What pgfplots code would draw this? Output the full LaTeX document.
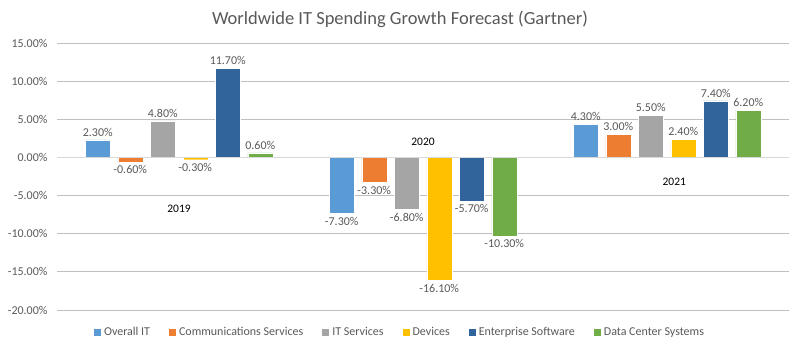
\documentclass[border=0pt]{standalone}
\usepackage{pgfplots}
\pgfplotsset{compat=1.18}
\usepackage{fontspec}
\setmainfont{Carlito}
\definecolor{c1}{HTML}{5B9BD5}
\definecolor{c2}{HTML}{ED7D31}
\definecolor{c3}{HTML}{A5A5A5}
\definecolor{c4}{HTML}{FFC000}
\definecolor{c5}{HTML}{31649A}
\definecolor{c6}{HTML}{70AD47}
\definecolor{txt}{HTML}{595959}
\definecolor{grid}{HTML}{D9D9D9}
\begin{document}
\begin{tikzpicture}
\begin{axis}[
  at={(0,0)}, anchor=south west,
  scale only axis, width=732bp, height=267bp,
  xmin=-0.5, xmax=2.5, ymin=-20, ymax=15,
  axis line style={draw=none},
  xtick=\empty,
  ytick={-20,-15,...,15},
  ymajorgrids, grid style={grid, line width=0.8pt},
  major tick length=0pt,
  /pgf/number format/assume math mode=true,
  yticklabel={\pgfmathprintnumber[fixed,fixed zerofill,precision=2]{\tick}\%},
  yticklabel style={font=\fontsize{12bp}{14bp}\selectfont, text=txt, xshift=-6bp},
  ybar, bar width=25bp,
  every axis plot/.append style={draw=white, line width=0.4pt},
  nodes near coords={\pgfmathprintnumber[fixed,fixed zerofill,precision=2,assume math mode=true]{\pgfplotspointmeta}\%},
  nodes near coords align={vertical},
  every node near coord/.append style={font=\fontsize{12bp}{14bp}\selectfont, text=txt, inner sep=3.5bp},
  legend columns=6,
  legend style={draw=none, at={(343bp,-22bp)}, anchor=center, font=\fontsize{12bp}{14bp}\selectfont, text=txt,
    /tikz/every even column/.append style={column sep=17bp},
    /tikz/every odd column/.append style={column sep=1bp}},
  legend image code/.code={\fill[#1, draw=none] (0bp,-3.5bp) rectangle (7bp,3.5bp);},
  clip=false,
]
\addplot[fill=c1, bar shift=-81.25bp] coordinates {(0,2.3) (1,-7.3) (2,4.3)};
\addplot[fill=c2, bar shift=-48.75bp] coordinates {(0,-0.6) (1,-3.3) (2,3.0)};
\addplot[fill=c3, bar shift=-16.25bp] coordinates {(0,4.8) (1,-6.8) (2,5.5)};
\addplot[fill=c4, bar shift=16.25bp] coordinates {(0,-0.3) (1,-16.1) (2,2.4)};
\addplot[fill=c5, bar shift=48.75bp] coordinates {(0,11.7) (1,-5.7) (2,7.4)};
\addplot[fill=c6, bar shift=81.25bp] coordinates {(0,0.6) (1,-10.3) (2,6.2)};
\legend{Overall IT, Communications Services, IT Services, Devices, Enterprise Software, Data Center Systems}
\draw[grid, line width=0.8pt] (axis cs:-0.5,0) -- (axis cs:2.5,0);
\node[font=\fontsize{11.5bp}{13bp}\selectfont, text=black] at (axis cs:0,-6.76) {2019};
\node[font=\fontsize{11.5bp}{13bp}\selectfont, text=black] at (axis cs:1,2.06) {2020};
\node[font=\fontsize{11.5bp}{13bp}\selectfont, text=black] at (axis cs:2.03,-3.26) {2021};
\end{axis}
\node[font=\fontsize{18.5bp}{22bp}\selectfont, text=txt] at (343bp,291bp) {Worldwide IT Spending Growth Forecast (Gartner)};
\pgfresetboundingbox
\path[use as bounding box] (-57bp,-38bp) rectangle (743bp,310bp);
\end{tikzpicture}
\end{document}
